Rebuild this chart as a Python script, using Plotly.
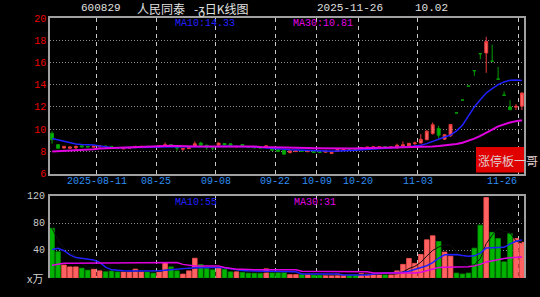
import plotly.graph_objects as go
import pandas as pd

# ---------------- data ----------------
tick_idx = [8, 18, 28, 38, 45, 52, 62, 79]
tick_labels = ["2025-08-11", "08-25", "09-08", "09-22", "10-09", "10-20", "11-03", "11-26"]
price_ticks = [6, 8, 10, 12, 14, 16, 18, 20]
vol_ticks = [40, 80, 120]

open_ = [9.62, 8.60, 8.30, 8.28, 8.33, 8.50, 8.45, 8.38, 8.40, 8.48,
         8.45, 8.35, 8.22, 8.28, 8.33, 8.40, 8.45, 8.42, 8.38, 8.45,
         8.60, 8.40, 8.20, 8.25, 8.45, 8.75, 8.55, 8.40, 8.55, 8.70,
         8.68, 8.40, 8.62, 8.42, 8.40, 8.40, 8.35, 8.30, 8.15, 8.10,
         7.90, 7.98, 8.05, 7.97, 8.02, 7.95, 7.92, 7.82, 8.00, 8.12,
         8.20, 8.22, 8.20, 8.30, 8.32, 8.35, 8.42, 8.30, 8.30, 8.40,
         8.50, 8.70, 8.75, 9.05, 9.60, 10.05, 9.10, 9.40, 11.46, 12.61,
         13.87, 15.26, 16.79, 16.85, 16.11, 14.50, 13.05, 12.00, 11.98, 12.07]
high = [9.80, 8.65, 8.50, 8.42, 8.53, 8.55, 8.48, 8.50, 8.52, 8.50,
        8.47, 8.36, 8.32, 8.36, 8.50, 8.48, 8.47, 8.44, 8.52, 8.80,
        8.62, 8.42, 8.28, 8.36, 8.90, 8.85, 8.60, 8.42, 8.78, 8.72,
        8.70, 8.48, 8.64, 8.44, 8.42, 8.42, 8.55, 8.32, 8.18, 8.12,
        8.10, 8.08, 8.07, 8.04, 8.04, 7.98, 8.05, 7.98, 8.20, 8.22,
        8.22, 8.24, 8.38, 8.40, 8.42, 8.42, 8.44, 8.42, 8.70, 8.90,
        8.75, 8.88, 9.55, 9.90, 10.60, 10.30, 9.55, 10.45, 11.46, 12.61,
        13.87, 15.26, 16.79, 18.30, 17.60, 15.60, 13.40, 12.60, 12.25, 13.30]
low = [8.70, 8.20, 8.25, 8.25, 8.10, 8.35, 8.36, 8.35, 8.38, 8.40,
       8.36, 8.20, 8.20, 8.25, 8.30, 8.38, 8.36, 8.33, 8.36, 8.42,
       8.40, 8.05, 8.05, 8.22, 8.42, 8.45, 8.15, 8.10, 8.50, 8.55,
       8.48, 8.38, 8.48, 8.33, 8.30, 8.28, 8.33, 8.05, 7.98, 7.70,
       7.80, 7.95, 7.97, 7.95, 7.85, 7.88, 7.90, 7.75, 7.98, 8.10,
       8.12, 8.13, 8.18, 8.28, 8.30, 8.33, 8.33, 8.28, 8.25, 8.35,
       8.45, 8.55, 8.72, 9.00, 9.50, 9.20, 9.05, 9.30, 11.46, 12.61,
       13.87, 14.80, 16.30, 15.07, 16.11, 14.50, 13.05, 11.75, 11.72, 11.72]
close = [9.05, 8.28, 8.45, 8.40, 8.44, 8.40, 8.40, 8.47, 8.48, 8.42,
         8.40, 8.25, 8.30, 8.33, 8.45, 8.45, 8.38, 8.36, 8.50, 8.60,
         8.45, 8.30, 8.25, 8.33, 8.68, 8.55, 8.35, 8.30, 8.75, 8.58,
         8.50, 8.45, 8.50, 8.35, 8.33, 8.30, 8.50, 8.10, 8.00, 7.75,
         8.05, 8.05, 8.00, 8.02, 7.90, 7.90, 8.02, 7.95, 8.18, 8.20,
         8.15, 8.15, 8.35, 8.38, 8.40, 8.40, 8.35, 8.40, 8.55, 8.60,
         8.72, 8.75, 9.08, 9.82, 10.40, 9.45, 9.50, 10.42, 11.46, 12.61,
         13.87, 15.26, 16.79, 17.88, 16.11, 14.50, 13.05, 11.75, 12.05, 13.25]
volume = [73, 38.5, 19, 16.3, 16.3, 14.4, 11.5, 13, 10.5, 9.1,
          10.5, 9.1, 9.1, 9.1, 13, 9.1, 9.1, 7.2, 9.1, 22.6,
          16.3, 10.5, 5.8, 10.5, 29, 19.7, 13.9, 12, 15.4, 12.5,
          9, 9.1, 8.2, 7.2, 7.2, 7.2, 13.5, 8.2, 8.7, 8.7,
          5, 5, 5, 5, 4.3, 4.3, 4.3, 4.3, 5.8, 4.3,
          4.3, 4.3, 6.5, 5.8, 5, 5, 5, 4.8, 10.5, 20,
          28.7, 21.5, 34.5, 56, 62, 53.5, 38, 32, 7.2, 5.8,
          7.2, 43.8, 77.6, 118, 67, 58, 23.7, 65, 58, 52.5]
ma10 = [9.15, 9.03, 8.88, 8.74, 8.66, 8.62, 8.60, 8.58, 8.48, 8.40,
        8.34, 8.32, 8.32, 8.33, 8.35, 8.36, 8.38, 8.38, 8.40, 8.40,
        8.41, 8.41, 8.40, 8.40, 8.41, 8.42, 8.42, 8.43, 8.45, 8.47,
        8.47, 8.46, 8.45, 8.42, 8.40, 8.37, 8.35, 8.30, 8.25, 8.20,
        8.15, 8.12, 8.10, 8.08, 8.05, 8.03, 8.03, 8.02, 8.03, 8.05,
        8.07, 8.10, 8.15, 8.18, 8.20, 8.22, 8.25, 8.28, 8.32, 8.36,
        8.42, 8.48, 8.55, 8.70, 8.92, 9.10, 9.30, 9.47, 9.85, 10.35,
        11.15, 12.00, 12.65, 13.25, 13.65, 14.00, 14.25, 14.40, 14.42, 14.38]
ma30 = [8.00, 8.02, 8.08, 8.09, 8.10, 8.10, 8.15, 8.20, 8.25, 8.27,
        8.32, 8.35, 8.37, 8.38, 8.38, 8.39, 8.40, 8.45, 8.48, 8.50,
        8.50, 8.48, 8.45, 8.44, 8.44, 8.44, 8.44, 8.45, 8.46, 8.47,
        8.47, 8.47, 8.46, 8.45, 8.43, 8.40, 8.38, 8.37, 8.36, 8.34,
        8.33, 8.32, 8.31, 8.30, 8.29, 8.28, 8.27, 8.26, 8.26, 8.26,
        8.26, 8.27, 8.28, 8.29, 8.30, 8.30, 8.31, 8.31, 8.32, 8.33,
        8.34, 8.35, 8.36, 8.40, 8.44, 8.48, 8.53, 8.58, 8.66, 8.78,
        8.95, 9.15, 9.40, 9.65, 9.95, 10.25, 10.45, 10.60, 10.72, 10.81]
vol_ma10 = [42, 43.5, 40, 34, 30, 28.8, 28, 26.5, 23, 16,
            12, 11, 10.5, 10.2, 10.2, 10.2, 10.2, 10.2, 10.8, 11.5,
            12.5, 13, 13.5, 14.5, 15, 15.4, 15.4, 15.4, 15.4, 15,
            13.5, 12, 11, 10.5, 10, 10, 10, 10, 10, 10,
            10, 9, 5.8, 5.8, 5.8, 5.8, 5.8, 5.8, 5.8, 4.3,
            4.3, 4.3, 4.3, 4.3, 6, 7, 7.2, 7.2, 7.5, 8.5,
            10, 12.5, 15, 18, 22.6, 29, 34, 34.4, 34.4, 33,
            32, 32.5, 36.5, 44, 44, 44, 45, 50, 54, 56]
vol_ma30 = [18.8, 20.2, 21.7, 21.7, 21.7, 21.7, 21.7, 21.7, 21.7, 21.7,
            21.7, 21.7, 21.7, 21.7, 21.7, 21.7, 21.7, 21.7, 22.6, 22.6,
            22.6, 22.6, 20, 18.8, 17.5, 17.8, 17.8, 17.8, 17.8, 15.4,
            14, 13, 13, 12, 12, 12, 12, 12, 12, 12,
            12, 12, 10, 10, 10, 10, 10, 10, 10, 9,
            9, 9, 9, 9, 7.2, 7.2, 7.2, 7.2, 7.2, 7.2,
            7.2, 7.2, 8.5, 10.5, 13, 15.4, 15.8, 16, 16, 16.3,
            16.5, 17.8, 20, 23.6, 25.5, 27.6, 28.5, 29.8, 30.5, 31]

# ---------------- styling ----------------
RED_FILL, RED_LINE = "#ff6262", "#e83a3a"
GRN_FILL, GRN_LINE = "#00b400", "#009c00"
BLUE, MAG = "#2020ff", "#e000e0"
MONO = "Liberation Mono, DejaVu Sans Mono, monospace"
CJK = "Noto Sans CJK SC, sans-serif"

L, R, T, B, W, H = 50, 16, 18, 15, 540, 297
PW, PH = W - L - R, H - T - B


def pxx(x):
    return (x - L) / PW


def pyy(y):
    return 1 - (y - T) / PH


idx = list(range(len(close)))
is_up = [close[i] > open_[i] for i in idx]

fig = go.Figure()

for flag, fill, line in [(True, RED_FILL, RED_LINE), (False, GRN_FILL, GRN_LINE)]:
    sel = [i for i in idx if is_up[i] == flag]
    style = dict(fillcolor=fill, line=dict(color=line, width=1))
    fig.add_trace(go.Candlestick(
        x=sel, open=[open_[i] for i in sel], high=[high[i] for i in sel],
        low=[low[i] for i in sel], close=[close[i] for i in sel],
        increasing=style, decreasing=style, whiskerwidth=0,
        xaxis="x", yaxis="y", showlegend=False, hoverinfo="skip"))

fig.add_trace(go.Scatter(x=idx, y=ma10, mode="lines", line=dict(color=BLUE, width=1.5),
                         xaxis="x", yaxis="y", showlegend=False, hoverinfo="skip"))
fig.add_trace(go.Scatter(x=idx, y=ma30, mode="lines", line=dict(color=MAG, width=2),
                         xaxis="x", yaxis="y", showlegend=False, hoverinfo="skip"))

vcol = [RED_FILL if u else GRN_FILL for u in is_up]
vline = ["#ff5050" if u else "#009000" for u in is_up]
fig.add_trace(go.Bar(x=idx, y=volume, width=0.78, marker=dict(color=vcol, line=dict(color=vline, width=0.8)),
                     xaxis="x2", yaxis="y2", showlegend=False, hoverinfo="skip"))
vol_ma5 = pd.Series(volume).rolling(5, min_periods=1).mean().tolist()
fig.add_trace(go.Scatter(x=idx, y=vol_ma5, mode="lines", line=dict(color="#101010", width=1),
                         xaxis="x2", yaxis="y2", showlegend=False, hoverinfo="skip"))
fig.add_trace(go.Scatter(x=idx, y=vol_ma10, mode="lines", line=dict(color=BLUE, width=1.5),
                         xaxis="x2", yaxis="y2", showlegend=False, hoverinfo="skip"))
fig.add_trace(go.Scatter(x=idx, y=vol_ma30, mode="lines", line=dict(color=MAG, width=1.5),
                         xaxis="x2", yaxis="y2", showlegend=False, hoverinfo="skip"))

grid_x = [i - 0.5 for i in tick_idx]
xr = [-0.35, len(close) - 0.65]
top_dom = [pyy(176), 1]
bot_dom = [0, pyy(199)]
AX = "#a0a0a0"

xcommon = dict(range=xr, tickvals=grid_x, showticklabels=False, ticks="",
               showgrid=True, gridcolor="#c8c8c8", griddash="4px,4px", gridwidth=1,
               zeroline=False, fixedrange=True)
fig.update_layout(
    width=W, height=H, margin=dict(l=L, r=R, t=T, b=B),
    paper_bgcolor="black", plot_bgcolor="black", showlegend=False,
    boxmode="overlay",
    xaxis=dict(domain=[0, 1], anchor="y", showline=True, mirror=True, linecolor=AX, linewidth=1.5,
               rangeslider=dict(visible=False), **xcommon),
    xaxis2=dict(domain=[0, 1], anchor="y2", side="top", showline=True, mirror=False,
                linecolor=AX, linewidth=1.5, **xcommon),
    yaxis=dict(domain=top_dom, range=[price_ticks[0], price_ticks[-1]], tickvals=price_ticks,
               ticktext=[str(v) for v in price_ticks],
               tickfont=dict(family=MONO, size=10, color="#f00000"), ticks="",
               showgrid=True, gridcolor="#8a8a8a", griddash="1px,2px", gridwidth=1,
               showline=True, mirror=True, linecolor=AX, linewidth=1.5, zeroline=False),
    yaxis2=dict(domain=bot_dom, range=[0, vol_ticks[-1]], tickvals=vol_ticks,
                showticklabels=False, ticks="",
                showgrid=True, gridcolor="#8a8a8a", griddash="1px,2px", gridwidth=1,
                showline=True, mirror=True, linecolor=AX, linewidth=1.5, zeroline=False),
)

ann = []


def text(x, y, s, color, family, size, xanchor="left"):
    ann.append(dict(x=pxx(x), y=pyy(y), xref="paper", yref="paper", text=s, showarrow=False,
                    xanchor=xanchor, yanchor="middle", font=dict(family=family, size=size, color=color)))


text(79, 8, "600829", "#e0e0e0", MONO, 11)
text(135, 8, "人民同泰", "#e0e0e0", CJK, 12)
text(192, 8, "-ᵹ日K线图", "#e0e0e0", CJK, 12)
text(315, 8, "2025-11-26", "#e0e0e0", MONO, 11)
text(413, 8, "10.02", "#e0e0e0", MONO, 11)
text(173, 24, "MA10:%.2f" % 14.33, BLUE, MONO, 10)
text(291, 24, "MA30:%.2f" % 10.81, MAG, MONO, 10)
text(173, 205, "MA10:55", BLUE, MONO, 10)
text(292, 205, "MA30:31", MAG, MONO, 10)
text(45, 282, "x万", "#d0d0d0", CJK, 11, xanchor="right")

# volume axis labels
for v in vol_ticks:
    ann.append(dict(x=pxx(47), y=v, xref="paper", yref="y2", text=str(v), showarrow=False,
                    xanchor="right", yanchor="middle",
                    font=dict(family=MONO, size=10, color="#c8c8c8")))

for k, (gi, lab) in enumerate(zip(grid_x, tick_labels)):
    last = k == len(tick_labels) - 1
    ann.append(dict(x=gi, y=pyy(184), xref="x", yref="paper", text=lab, showarrow=False,
                    xanchor="right" if last else "center", yanchor="middle",
                    font=dict(family=MONO, size=10, color="#2e8cf0")))

fig.add_shape(type="rect", xref="paper", yref="paper", x0=pxx(476), x1=pxx(524),
              y0=pyy(175), y1=pyy(149), fillcolor="#e00000", line=dict(width=0), layer="above")
text(476, 163, "涨停板一哥", "#e0cccc", CJK, 12)

fig.update_layout(annotations=ann)
fig.write_html("out.html")
